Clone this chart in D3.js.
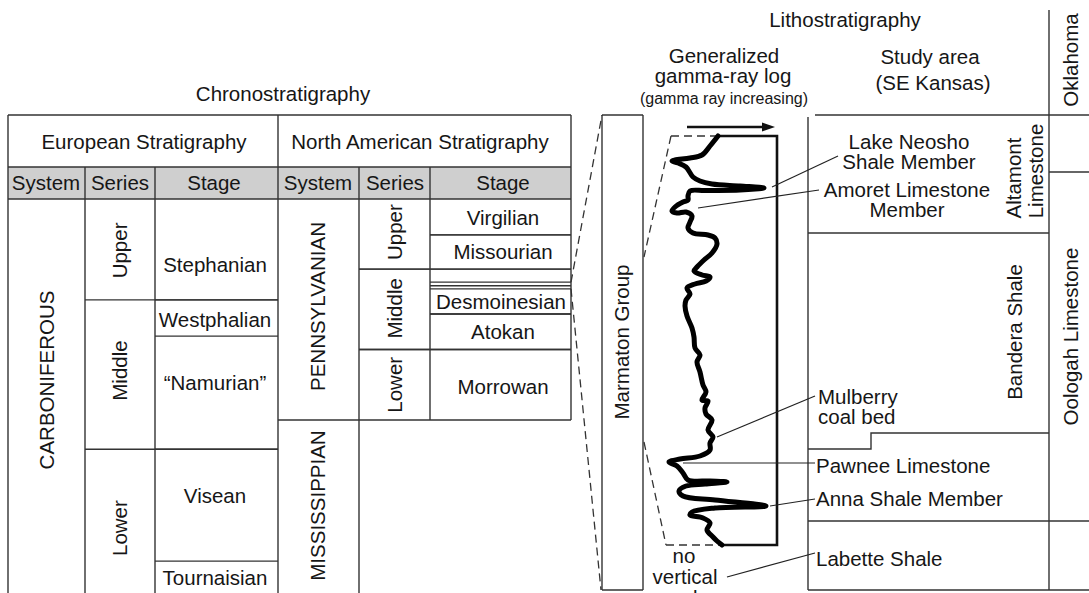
<!DOCTYPE html>
<html>
<head>
<meta charset="utf-8">
<script src="https://cdn.jsdelivr.net/npm/d3@7"></script>
<style>
  body { margin: 0; background: #fff; }
  svg { display: block; }
  text { font-family: "Liberation Sans", Arial, Helvetica, sans-serif; fill: #161616; }
</style>
</head>
<body>
<svg id="chart" width="1089" height="593"></svg>
<script>
// ---- Chronostratigraphy (relative position, 0 = top of table body, 100 = bottom) ----
const eurSystems = [{ name: "CARBONIFEROUS", top: 0, base: 100 }];
const eurSeries = [
  { name: "Upper", top: 0, base: 25.6 },
  { name: "Middle", top: 25.6, base: 63.5 },
  { name: "Lower", top: 63.5, base: 100 }
];
const eurStages = [
  { name: "Stephanian", top: 0, base: 25.6 },
  { name: "Westphalian", top: 25.6, base: 34.8 },
  { name: "\u201cNamurian\u201d", top: 34.8, base: 63.5 },
  { name: "Visean", top: 63.5, base: 91.9 },
  { name: "Tournaisian", top: 91.9, base: 100 }
];
const naSystems = [
  { name: "PENNSYLVANIAN", top: 0, base: 56.1 },
  { name: "MISSISSIPPIAN", top: 56.1, base: 100 }
];
const naSeries = [
  { name: "Upper", top: 0, base: 17.8 },
  { name: "Middle", top: 17.8, base: 38.2 },
  { name: "Lower", top: 38.2, base: 56.1 }
];
const naStages = [
  { name: "Virgilian", top: 0, base: 9.1 },
  { name: "Missourian", top: 9.1, base: 17.8 },
  { name: "Desmoinesian", top: 17.8, base: 29.2 },
  { name: "Atokan", top: 29.2, base: 38.2 },
  { name: "Morrowan", top: 38.2, base: 56.1 }
];
// Marmaton Group interval inside the Desmoinesian
const marmatonBand = [21.1, 22.0, 22.8];

// ---- Lithostratigraphy (relative thickness, 0 = top of log, 410 = base of log) ----
const kansasUnits = [
  { name: "Altamont Limestone", top: -21, base: 97 },
  { name: "Bandera Shale", top: 97, base: 297, baseWest: 313 },
  { name: "Pawnee Limestone", top: 297, topWest: 313, base: 385 },
  { name: "Labette Shale", top: 385, base: 454 }
];
const oklahomaUnits = [
  { name: "", top: -21, base: 36 },
  { name: "Oologah Limestone", top: 36, base: 385 },
  { name: "", top: 385, base: 454 }
];

// Generalized gamma-ray log: [gamma (relative, increasing right), depth]
const gammaLog = [
  [58, 0], [50, 10], [42, 19], [30, 22], [15, 24], [12, 25], [18, 27], [26, 31],
  [33, 41], [40, 45], [52, 48], [80, 50], [104, 52], [80, 54], [45, 54.5], [30, 55],
  [28, 60], [28, 64], [23, 66], [15, 71], [12, 75], [17, 77], [26, 76], [32, 80],
  [30, 86], [28, 92], [33, 97], [48, 99], [55, 102], [57, 108], [52, 117], [44, 124],
  [37, 131], [34, 135], [42, 139], [50, 141], [46, 145], [35, 148], [27, 152], [30, 158],
  [26, 164], [25, 170], [27, 180], [32, 192], [34, 201], [35, 212], [40, 219], [37, 226],
  [40, 236], [43, 249], [46, 256], [42, 264], [48, 265], [45, 272], [46, 278], [52, 284],
  [48, 294], [53, 301], [50, 307], [50, 314], [40, 320], [20, 323], [9, 326], [17, 330],
  [23, 337], [28, 344], [50, 345], [67, 346], [45, 348], [26, 350], [19, 355], [23, 360],
  [55, 364], [106, 370], [55, 372], [32, 376], [30, 379], [43, 382], [50, 387], [47, 394],
  [53, 401], [57, 405], [62, 409]
];

// Named beds picked on the log: label lines and the log point each leader starts from
const logPicks = [
  { lines: ["Lake Neosho", "Shale Member"], at: [112, 51] },
  { lines: ["Amoret Limestone", "Member"], at: [38, 72] },
  { lines: ["Mulberry", "coal bed"], at: [57, 301] },
  { lines: ["Pawnee Limestone"], at: [23, 327] },
  { lines: ["Anna Shale Member"], at: [110, 370] }
];

// ================= drawing =================
const svg = d3.select("#chart");
const FS = 20.5;
const LINE = "#333";

const yChron = d3.scaleLinear().domain([0, 100]).range([199, 593]);
const yLog = d3.scaleLinear().domain([0, 410]).range([136, 546]);
const xGamma = d3.scaleLinear().domain([0, 120]).range([660, 780]);

const gLines = svg.append("g").attr("fill", "none").attr("stroke", LINE).attr("stroke-width", 1.4);
const gText = svg.append("g");

function hline(x1, x2, y, g = gLines) {
  g.append("line").attr("x1", x1).attr("x2", x2).attr("y1", y).attr("y2", y);
}
function vline(x, y1, y2, g = gLines) {
  g.append("line").attr("x1", x).attr("x2", x).attr("y1", y1).attr("y2", y2);
}
function text(t, x, y, opts = {}) {
  const size = opts.size || FS;
  return gText.append("text")
    .attr("x", x).attr("y", y + 0.36 * size)
    .attr("text-anchor", opts.anchor || "middle")
    .attr("font-size", size)
    .text(t);
}
function vtext(t, cx, cy, opts = {}) {
  const size = opts.size || FS;
  return gText.append("text")
    .attr("transform", `translate(${cx},${cy}) rotate(-90)`)
    .attr("x", 0).attr("y", 0.36 * size)
    .attr("text-anchor", opts.anchor || "middle")
    .attr("font-size", size)
    .text(t);
}

// ---- Chronostratigraphy table ----
const col = { e0: 8, e1: 85, e2: 155, e3: 278, n1: 359, n2: 430, n3: 571 };
const hdrTop = 115, greyTop = 167, bodyTop = yChron(0), bodyBot = yChron(100);

svg.insert("rect", ":first-child")
  .attr("x", col.e0).attr("y", greyTop).attr("width", col.n3 - col.e0).attr("height", bodyTop - greyTop)
  .attr("fill", "#cfcfcf");

text("Chronostratigraphy", 283, 94);
hline(col.e0, col.n3, hdrTop);
hline(col.e0, col.n3, greyTop);
hline(col.e0, col.n3, bodyTop);
vline(col.e0, hdrTop, bodyBot);
vline(col.e3, hdrTop, bodyBot);
vline(col.n3, hdrTop, yChron(56.1));
vline(col.e1, greyTop, bodyBot);
vline(col.e2, greyTop, bodyBot);
vline(col.n1, greyTop, bodyBot);
vline(col.n2, greyTop, yChron(56.1));

text("European Stratigraphy", 144, 142);
text("North American Stratigraphy", 420, 142);
[["System", 46], ["Series", 120], ["Stage", 214], ["System", 318], ["Series", 395], ["Stage", 503]]
  .forEach(([t, x]) => text(t, x, 183));

// label nudges within their intervals, in pixels
const labelShift = {
  "CARBONIFEROUS": -16, "Stephanian": 15, "Westphalian": 2, "\u201cNamurian\u201d": -10, "Visean": -10,
  "Tournaisian": 1, "eUpper": 1, "eMiddle": -4, "eLower": 7,
  "PENNSYLVANIAN": -3, "MISSISSIPPIAN": -1, "nUpper": -2, "nMiddle": -1,
  "Virgilian": 1, "Desmoinesian": 10.5, "Morrowan": 2
};
const mid = d => (yChron(d.top) + yChron(d.base)) / 2;

// European columns
eurSystems.forEach(d => vtext(d.name, 47, mid(d) + (labelShift[d.name] || 0)));
eurSeries.forEach((d, i) => {
  if (i > 0) hline(col.e1, col.e3, yChron(d.top));
  vtext(d.name, 120, mid(d) + (labelShift["e" + d.name] || 0));
});
eurStages.forEach((d, i) => {
  if (i > 0) hline(col.e2, col.e3, yChron(d.top));
  text(d.name, 215, mid(d) + (labelShift[d.name] || 0));
});

// North American columns
naSystems.forEach((d, i) => {
  if (i > 0) hline(col.e3, col.n1, yChron(d.top));
  vtext(d.name, 318, mid(d) + (labelShift[d.name] || 0));
});
naSeries.forEach((d, i) => {
  hline(col.n1, col.n2, yChron(d.base));
  if (i > 0) hline(col.n1, col.n2, yChron(d.top));
  vtext(d.name, 395, mid(d) + (labelShift["n" + d.name] || 0));
});
naStages.forEach((d, i) => {
  if (i > 0) hline(col.n2, col.n3, yChron(d.top));
  hline(col.n2, col.n3, yChron(d.base));
  text(d.name, d.name === "Desmoinesian" ? 501 : 503, mid(d) + (labelShift[d.name] || 0));
});
marmatonBand.forEach(v => hline(col.n2, col.n3, yChron(v)));

// ---- Lithostratigraphy panel ----
const box = { l: 602, r: 643 };
const lit = { l: 808, mid: 1049, r: 1089, step: 871 };
const litTop = yLog(-21), litBot = yLog(454);

text("Lithostratigraphy", 845, 20);
text("Generalized", 724, 56);
text("gamma-ray log", 723, 76);
text("(gamma ray increasing)", 724, 98, { size: 16 });
text("Study area", 930, 57);
text("(SE Kansas)", 933, 83);
vtext("Oklahoma", 1071, 60);

// dashed correlation lines from the Marmaton interval
const dashed = svg.append("g").attr("fill", "none").attr("stroke", LINE)
  .attr("stroke-width", 1.3).attr("stroke-dasharray", "8,5");
dashed.append("line").attr("x1", col.n3).attr("y1", yChron(marmatonBand[0]))
  .attr("x2", box.l).attr("y2", litTop);
dashed.append("line").attr("x1", col.n3).attr("y1", yChron(marmatonBand[2]))
  .attr("x2", box.l - 1).attr("y2", litBot);

// Marmaton Group box
hline(box.l, box.r, litTop);
hline(box.l, box.r, litBot);
vline(box.l, litTop, litBot);
vline(box.r, litTop, litBot);
vtext("Marmaton Group", 622, 342);

// log frame
const logL = xGamma(11), logR = xGamma(117);
const logTop = yLog(0), logBot = yLog(409);
dashed.append("line").attr("x1", logL).attr("y1", logTop).attr("x2", box.r + 1).attr("y2", yLog(121));
dashed.append("line").attr("x1", box.r + 1).attr("y1", yLog(306)).attr("x2", xGamma(6)).attr("y2", logBot);
dashed.append("line").attr("x1", logL).attr("x2", xGamma(gammaLog[0][0])).attr("y1", logTop).attr("y2", logTop);
dashed.append("line").attr("x1", xGamma(6)).attr("x2", xGamma(gammaLog[gammaLog.length - 1][0]))
  .attr("y1", logBot).attr("y2", logBot);

const frame = svg.append("g").attr("fill", "none").attr("stroke", "#111").attr("stroke-width", 2.6);
frame.append("path").attr("d",
  `M${xGamma(gammaLog[0][0])},${logTop}H${logR}V${logBot}H${xGamma(gammaLog[gammaLog.length - 1][0])}`);

// gamma-ray increasing arrow
const arrowY = 127;
svg.append("line").attr("x1", 687).attr("x2", 764).attr("y1", arrowY).attr("y2", arrowY)
  .attr("stroke", "#111").attr("stroke-width", 2.4);
svg.append("path").attr("d", `M775,${arrowY}L762,${arrowY - 4.5}L762,${arrowY + 4.5}Z`).attr("fill", "#111");

// gamma-ray curve
const line = d3.line().x(d => xGamma(d[0])).y(d => yLog(d[1])).curve(d3.curveCatmullRom.alpha(0.5));
svg.append("path").datum(gammaLog).attr("d", line)
  .attr("fill", "none").attr("stroke", "#000").attr("stroke-width", 5)
  .attr("stroke-linejoin", "round").attr("stroke-linecap", "round");

// Kansas formation column
vline(lit.l, litTop + 2, litBot);
hline(lit.l + 7, lit.r, litTop);
vline(lit.mid, 10, litBot);
hline(lit.l, lit.r, litBot);
kansasUnits.forEach(d => {
  if (d.baseWest !== undefined) {
    gLines.append("path").attr("d",
      `M${lit.mid},${yLog(d.base)}H${lit.step}V${yLog(d.baseWest)}H${lit.l}`);
  } else if (d.base < 454 && d.topWest === undefined) {
    hline(lit.l, lit.mid, yLog(d.base));
  }
});
vtext("Altamont", 1014, 178);
vtext("Limestone", 1036, 171);
vtext("Bandera Shale", 1015, 332);

// Oklahoma column
oklahomaUnits.forEach(d => {
  if (d.base < 454) hline(lit.mid, lit.r, yLog(d.base));
  if (d.name) vtext(d.name, 1071, (yLog(d.top) + yLog(d.base)) / 2 - 10);
});
hline(lit.l, lit.mid, yLog(385));

// picks with leaders
const leaders = svg.append("g").attr("stroke", "#222").attr("stroke-width", 1.2);
const pickLayout = [
  { end: [838, 156], x: 909, ys: [142, 162], anchor: "middle" },
  { end: [819, 190], x: 907, ys: [190, 210], anchor: "middle" },
  { end: [815, 396], x: 818, ys: [397, 417], anchor: "start" },
  { end: [815, 463], x: 816, ys: [466], anchor: "start" },
  { end: [815, 499], x: 816, ys: [499], anchor: "start" }
];
logPicks.forEach((p, i) => {
  const L = pickLayout[i];
  leaders.append("line")
    .attr("x1", xGamma(p.at[0])).attr("y1", yLog(p.at[1]))
    .attr("x2", L.end[0]).attr("y2", L.end[1]);
  p.lines.forEach((t, j) => text(t, L.x, L.ys[j], { anchor: L.anchor }));
});

// Labette Shale and the scale note
text("Labette Shale", 816, 559, { anchor: "start" });
text("no", 684, 556);
text("vertical", 685, 577);
text("scale", 685, 598);
leaders.append("line").attr("x1", 727).attr("y1", 577).attr("x2", 815).attr("y2", 553);
</script>
</body>
</html>
